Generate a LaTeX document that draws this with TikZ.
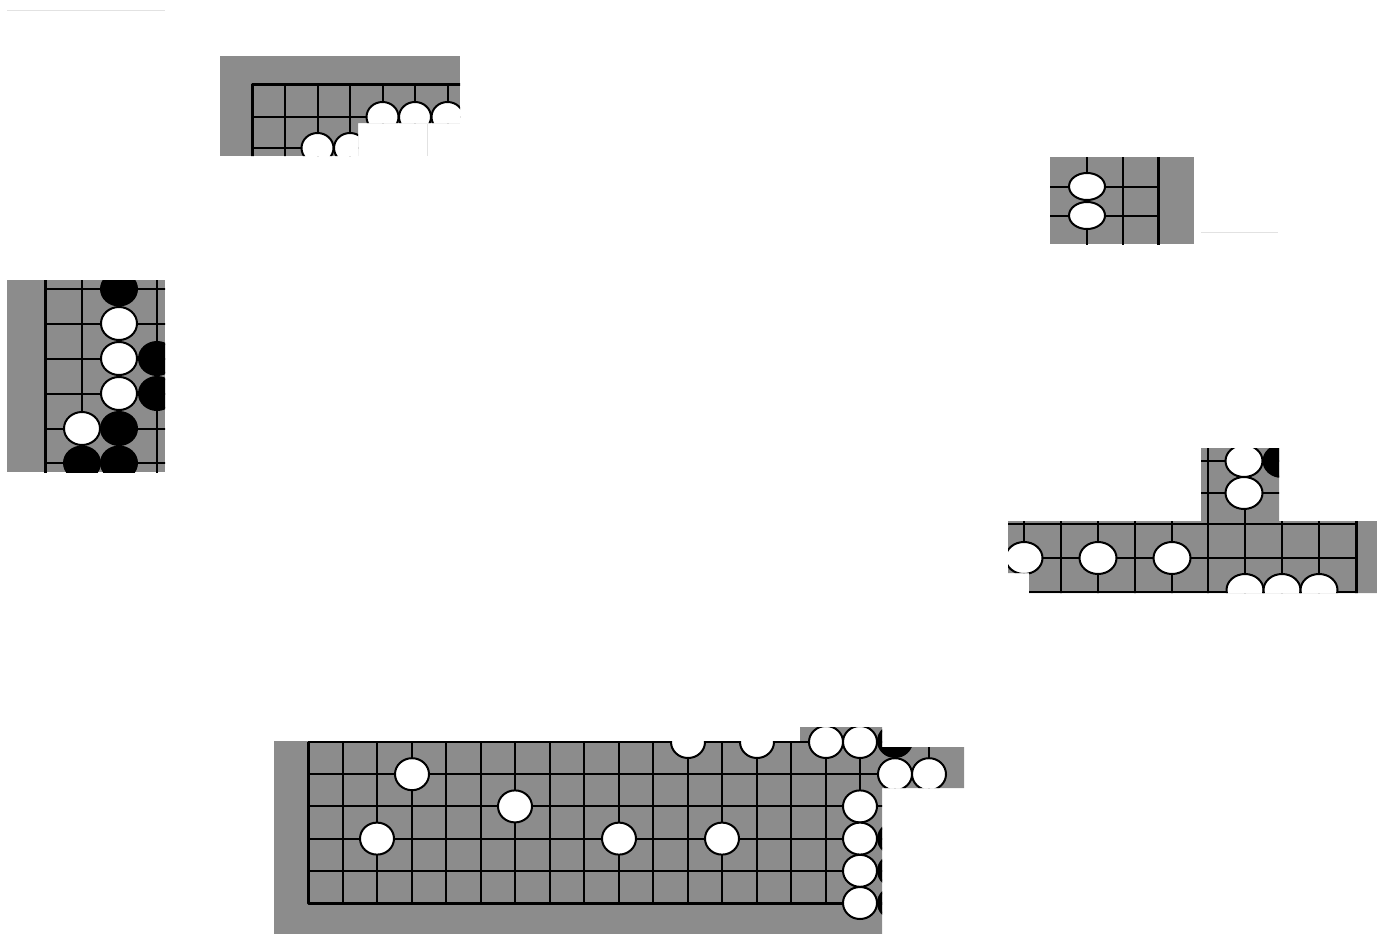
\documentclass[tikz,border=0pt]{standalone}
\definecolor{boardgray}{RGB}{140,140,140}
\definecolor{faint}{RGB}{226,226,226}
\begin{document}
\begin{tikzpicture}[x=1pt, y=-1pt, line join=round,
	board/.style={fill=boardgray},
	gridline/.style={line width=2pt},
	edgeline/.style={line width=3pt},
	wstone/.style={draw=black, fill=white, line width=2pt},
	bstone/.style={draw=black, fill=black, line width=2pt},
	faintline/.style={draw=faint, line width=1pt}]
	\useasboundingbox (0,0) rectangle (1377,934);
	% stray rules
	\draw[faintline] (7,11) -- (165,11);
	\draw[faintline] (1201,232) -- (1278,232);
	\draw[faintline] (427,124) -- (427,156);
	% top-left corner
	\begin{scope}
		\clip (220,56) -- (460,56) -- (460,123) -- (358,123) -- (358,156) -- (220,156) -- cycle;
		\fill[board] (220,56) rectangle (460,156);
		\foreach \x in {285,317.5,350,382.5,415,447.5} \draw[gridline] (\x,85) -- (\x,160);
		\foreach \y in {117,148} \draw[gridline] (252,\y) -- (465,\y);
		\draw[edgeline] (252,160) -- (252,85) -- (465,85);
		\foreach \x in {382.5,415,447.5} \draw[wstone] (\x,117) ellipse [x radius=16pt, y radius=15pt];
		\foreach \x in {317.5,350} \draw[wstone] (\x,148) ellipse [x radius=16pt, y radius=15pt];
	\end{scope}
	% left side
	\begin{scope}
		\clip (7,280) rectangle (165,472);
		\fill[board] (7,280) rectangle (165,472);
		\foreach \x in {82,119,157} \draw[gridline] (\x,270) -- (\x,480);
		\foreach \y in {289,323.5,358.5,393.5,428.5,463} \draw[gridline] (45,\y) -- (170,\y);
		\draw[edgeline] (45,270) -- (45,480);
		\foreach \x/\y in {119/289,157/358.5,157/393.5,119/428.5,82/463,119/463}
			\draw[bstone] (\x,\y) ellipse [x radius=18pt, y radius=16.5pt];
		\foreach \x/\y in {119/323.5,119/358.5,119/393.5,82/428.5}
			\draw[wstone] (\x,\y) ellipse [x radius=18pt, y radius=16.5pt];
	\end{scope}
	% right top
	\begin{scope}
		\clip (1050,157) rectangle (1194,244);
		\fill[board] (1050,157) rectangle (1194,244);
		\foreach \x in {1087,1123} \draw[gridline] (\x,150) -- (\x,250);
		\foreach \y in {186.5,215.5} \draw[gridline] (1045,\y) -- (1158,\y);
		\draw[edgeline] (1158,150) -- (1158,250);
		\foreach \y in {186.5,215.5} \draw[wstone] (1087,\y) ellipse [x radius=18pt, y radius=13.5pt];
	\end{scope}
	% right middle
	\begin{scope}
		\clip (1201,448) -- (1279,448) -- (1279,521) -- (1377,521) -- (1377,593) -- (1029,593)
			-- (1029,573) -- (1008,573) -- (1008,521) -- (1201,521) -- cycle;
		\fill[board] (1000,440) rectangle (1377,600);
		\foreach \x in {1024,1061,1098,1135,1172,1208,1245,1282,1319} \draw[gridline] (\x,440) -- (\x,600);
		\foreach \y in {461,493,524,558,592} \draw[gridline] (1000,\y) -- (1356,\y);
		\draw[edgeline] (1356,515) -- (1356,600);
		\draw[bstone] (1282,461) ellipse [x radius=18.5pt, y radius=16pt];
		\foreach \x/\y in {1244/461,1244/493,1024/558,1098/558,1172/558,1245/590,1282/590,1319/590}
			\draw[wstone] (\x,\y) ellipse [x radius=18.5pt, y radius=16pt];
	\end{scope}
	% bottom side
	\begin{scope}
		\clip (274,741) -- (800,741) -- (800,727) -- (882,727) -- (882,747) -- (964,747) -- (964,788)
			-- (882,788) -- (882,934) -- (274,934) -- cycle;
		\fill[board] (274,720) rectangle (970,934);
		\foreach \k in {1,...,18} \draw[gridline] (308+34.5*\k,700) -- (308+34.5*\k,903);
		\foreach \y in {742,774.2,806.4,838.6,870.8} \draw[gridline] (308,\y) -- (929,\y);
		\draw[edgeline] (308,742) -- (308,903) -- (895,903);
		\foreach \y in {741,838.6,870.8,903} \draw[bstone] (895,\y) ellipse [x radius=17pt, y radius=16pt];
		\foreach \x/\y in {412/774.2,515/806.4,377/838.6,619/838.6,722/838.6,688/742,757/742,826/742,860/742,
			895/774.2,929/774.2,860/806.4,860/838.6,860/870.8,860/903}
			\draw[wstone] (\x,\y) ellipse [x radius=17pt, y radius=16pt];
	\end{scope}
\end{tikzpicture}
\end{document}
